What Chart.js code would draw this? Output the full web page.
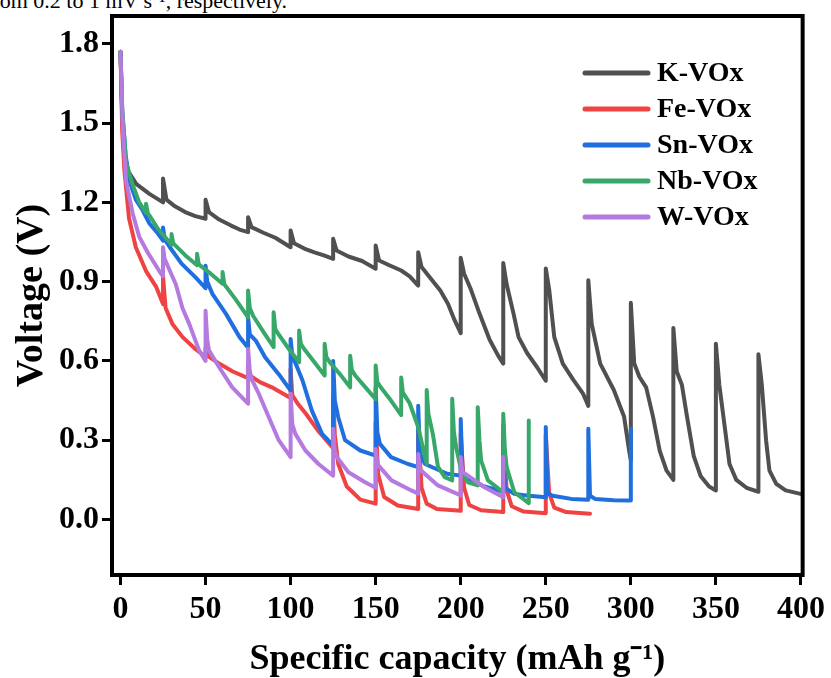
<!DOCTYPE html>
<html>
<head>
<meta charset="utf-8">
<script src="https://cdn.jsdelivr.net/npm/chart.js@4.4.1/dist/chart.umd.min.js"></script>
<style>
  body { margin: 0; background: #fff; }
  #wrap { position: relative; width: 831px; height: 678px; overflow: hidden; }
  #caption { position: absolute; left: -15px; top: -10px; font: 22px "Liberation Serif", serif; color: #000; white-space: nowrap; line-height: 22px; }
  canvas { position: absolute; left: 0; top: 0; }
</style>
</head>
<body>
<div id="wrap">
  <div id="caption">from 0.2 to 1 mV s⁻¹, respectively.</div>
  <canvas id="gittChart" width="831" height="678"></canvas>
</div>
<script>
const seriesNames = ['K-VOx', 'Fe-VOx', 'Sn-VOx', 'Nb-VOx', 'W-VOx'];
const xTicks = [0, 50, 100, 150, 200, 250, 300, 350, 400];
const yTicks = [0.0, 0.3, 0.6, 0.9, 1.2, 1.5, 1.8];

// K-VOx
const kX = [0, 1, 2, 4.3, 9.2, 17, 25,
  25, 27, 32, 38, 44, 50,
  50, 52, 58, 65, 70, 75,
  75, 77, 84, 91, 100,
  100, 102, 108, 114, 120, 125,
  125, 127, 134, 142, 150,
  150, 152, 158, 165, 170, 175,
  175, 177, 182, 188, 192.5, 196, 200,
  200, 202, 206, 211, 217, 222, 225,
  225, 227, 231, 234, 239, 245, 250,
  250, 252, 255, 260, 266, 272, 275,
  275, 277, 282, 290, 296, 299, 300,
  300, 302, 305, 309, 313, 317, 321, 325,
  325, 327, 330, 333, 337, 341, 346, 350,
  350, 352, 355, 358, 362, 368, 375,
  375, 377, 379.5, 381.5, 385.5, 391, 401];
const kY = [1.77, 1.52, 1.40, 1.32, 1.27, 1.232, 1.20,
  1.29, 1.21, 1.185, 1.163, 1.148, 1.138,
  1.21, 1.163, 1.135, 1.112, 1.097, 1.087,
  1.144, 1.106, 1.085, 1.066, 1.03,
  1.093, 1.045, 1.025, 1.011, 0.998, 0.986,
  1.062, 1.018, 0.995, 0.978, 0.949,
  1.037, 0.98, 0.962, 0.942, 0.92, 0.885,
  1.011, 0.955, 0.915, 0.866, 0.816, 0.76, 0.705,
  0.99, 0.93, 0.87, 0.78, 0.68, 0.62, 0.59,
  0.97, 0.89, 0.78, 0.69, 0.63, 0.575, 0.525,
  0.95, 0.87, 0.69, 0.59, 0.53, 0.475, 0.43,
  0.905, 0.74, 0.59, 0.49, 0.39, 0.26, 0.225,
  0.82, 0.59, 0.54, 0.50, 0.39, 0.26, 0.185, 0.15,
  0.725, 0.56, 0.51, 0.39, 0.24, 0.165, 0.125, 0.11,
  0.665, 0.51, 0.36, 0.21, 0.15, 0.12, 0.105,
  0.625, 0.51, 0.30, 0.185, 0.135, 0.11, 0.095];

// Fe-VOx
const feX = [0, 1, 2.3, 5, 9, 15, 21, 25,
  25, 26.5, 30.5, 36.5, 44, 50,
  50, 51, 58, 66, 75,
  75, 76, 82, 89, 100,
  100, 101, 104, 109, 116, 125,
  125, 126, 128, 133, 141, 150,
  150, 151.5, 155, 163, 175,
  175, 177, 180, 186, 200,
  200, 202, 205, 212, 225,
  225, 227, 230, 237, 250,
  250, 252, 255, 262, 276];
const feY = [1.77, 1.47, 1.32, 1.14, 1.03, 0.94, 0.88, 0.815,
  0.92, 0.80, 0.74, 0.69, 0.645, 0.615,
  0.65, 0.62, 0.59, 0.56, 0.535,
  0.59, 0.545, 0.52, 0.50, 0.46,
  0.57, 0.47, 0.44, 0.40, 0.337, 0.27,
  0.465, 0.32, 0.21, 0.125, 0.075, 0.06,
  0.37, 0.17, 0.085, 0.053, 0.04,
  0.34, 0.12, 0.06, 0.04, 0.033,
  0.325, 0.12, 0.055, 0.035, 0.028,
  0.315, 0.11, 0.05, 0.03, 0.024,
  0.32, 0.10, 0.045, 0.028, 0.022];

// Sn-VOx
const snX = [0, 1, 3, 5.3, 9, 13, 17, 21, 25,
  25, 26, 29, 36, 44, 50,
  50, 51, 54, 62, 70, 75,
  75, 76, 79.5, 85, 93, 100,
  100, 101, 103, 107, 112.5, 118.5, 125,
  125, 126, 128, 132, 141, 150,
  150, 151, 152.5, 159, 169, 175,
  175, 176, 179, 192, 200,
  200, 201, 206, 214, 225,
  225, 226, 231.5, 240, 250,
  250, 251, 254, 265, 275,
  275, 276, 279, 290, 300,
  300];
const snY = [1.77, 1.55, 1.38, 1.28, 1.21, 1.17, 1.12, 1.09, 1.055,
  1.105, 1.06, 1.03, 0.967, 0.917, 0.875,
  0.96, 0.90, 0.854, 0.778, 0.69, 0.65,
  0.765, 0.70, 0.677, 0.614, 0.55, 0.488,
  0.683, 0.62, 0.589, 0.526, 0.412, 0.324, 0.28,
  0.60, 0.45, 0.387, 0.30, 0.261, 0.242,
  0.50, 0.33, 0.286, 0.236, 0.21, 0.198,
  0.43, 0.25, 0.21, 0.173, 0.166,
  0.38, 0.18, 0.148, 0.125, 0.105,
  0.36, 0.12, 0.097, 0.09, 0.084,
  0.35, 0.10, 0.09, 0.078, 0.075,
  0.343, 0.09, 0.078, 0.073, 0.072,
  0.343];

// Nb-VOx
const nbX = [0, 1, 3.3, 7, 11, 15,
  15, 16, 22, 30,
  30, 31, 38, 45,
  45, 46, 53, 60,
  60, 61, 68, 75,
  75, 76, 78, 84, 90,
  90, 91, 93, 99, 105,
  105, 106, 108, 114, 120,
  120, 121, 123, 129, 135,
  135, 136, 138, 144, 150,
  150, 151, 153, 159, 165,
  165, 166, 170, 175, 178.5, 180,
  180, 181, 183.7, 186.6, 190.6, 195,
  195, 196, 197.4, 200.3, 204.2, 210,
  210, 211, 212, 216, 225,
  225, 226, 227, 231.5, 240,
  240];
const nbY = [1.77, 1.55, 1.35, 1.27, 1.20, 1.16,
  1.195, 1.16, 1.10, 1.04,
  1.08, 1.045, 1.00, 0.962,
  1.005, 0.965, 0.93, 0.892,
  0.936, 0.89, 0.83, 0.765,
  0.866, 0.80, 0.77, 0.71, 0.652,
  0.784, 0.72, 0.70, 0.645, 0.595,
  0.715, 0.665, 0.645, 0.595, 0.545,
  0.665, 0.615, 0.595, 0.55, 0.50,
  0.62, 0.565, 0.545, 0.50, 0.455,
  0.583, 0.52, 0.50, 0.45, 0.395,
  0.537, 0.48, 0.44, 0.35, 0.25, 0.21,
  0.49, 0.40, 0.32, 0.20, 0.16, 0.148,
  0.457, 0.33, 0.27, 0.185, 0.141, 0.129,
  0.425, 0.30, 0.223, 0.148, 0.103,
  0.40, 0.26, 0.198, 0.103, 0.062,
  0.375];

// W-VOx
const wX = [0, 1.4, 3.3, 7.2, 11, 16, 22.8, 25,
  25, 26, 27.7, 32.5, 36.4, 40.4, 46.2, 50,
  50, 51, 52, 58, 65.7, 75,
  75, 76, 77.4, 81.3, 87.2, 93, 100,
  100, 101, 102.8, 108.7, 116.4, 125,
  125, 126, 127.2, 134, 143.8, 150,
  150, 151, 152.5, 159.3, 171, 175,
  175, 176, 178.8, 186.6, 200,
  200, 201, 204.2, 214, 225,
  225];
const wY = [1.77, 1.47, 1.28, 1.157, 1.07, 1.01, 0.94, 0.92,
  1.03, 0.985, 0.96, 0.89, 0.80, 0.74, 0.64, 0.60,
  0.79, 0.68, 0.64, 0.576, 0.50, 0.438,
  0.646, 0.56, 0.526, 0.476, 0.387, 0.30, 0.236,
  0.476, 0.36, 0.324, 0.261, 0.21, 0.166,
  0.343, 0.26, 0.236, 0.179, 0.141, 0.12,
  0.267, 0.21, 0.198, 0.148, 0.11, 0.098,
  0.248, 0.19, 0.173, 0.129, 0.091,
  0.236, 0.18, 0.166, 0.122, 0.084,
  0.236];

const colors = ['#505050', '#ef4343', '#1f6fde', '#38a86a', '#b47ae0'];

function toPoints(xs, ys) {
  return xs.map((x, i) => ({ x: x, y: ys[i] }));
}

const allX = [kX, feX, snX, nbX, wX];
const allY = [kY, feY, snY, nbY, wY];

const datasets = seriesNames.map((name, i) => ({
  label: name,
  data: toPoints(allX[i], allY[i]),
  borderColor: colors[i],
  backgroundColor: colors[i],
  borderWidth: 4,
  pointRadius: 0,
  tension: 0,
  borderJoinStyle: 'round',
  borderCapStyle: 'round',
  order: seriesNames.length - i
}));

// frame around the plot and the legend in the top-right corner
const frameAndLegend = {
  id: 'frameAndLegend',
  afterDraw(chart) {
    const ctx = chart.ctx;
    const a = chart.chartArea;
    ctx.save();
    ctx.strokeStyle = '#000';
    ctx.lineWidth = 4;
    ctx.strokeRect(a.left, a.top, a.right - a.left, a.bottom - a.top);

    ctx.font = 'bold 28px "Liberation Serif", serif';
    ctx.textBaseline = 'middle';
    ctx.lineCap = 'round';
    chart.data.datasets.forEach((ds, i) => {
      const y = 73 + i * 36;
      ctx.strokeStyle = ds.borderColor;
      ctx.lineWidth = 5;
      ctx.beginPath();
      ctx.moveTo(585, y);
      ctx.lineTo(648, y);
      ctx.stroke();
      ctx.fillStyle = '#000';
      ctx.fillText(ds.label, 657, y + 1);
    });
    ctx.restore();
  }
};

Chart.defaults.font.family = '"Liberation Serif", "Times New Roman", serif';
Chart.defaults.font.weight = 'bold';
Chart.defaults.color = '#000';

new Chart(document.getElementById('gittChart'), {
  type: 'line',
  data: { datasets: datasets },
  options: {
    responsive: false,
    animation: false,
    layout: { padding: { left: 0, top: 16, right: 25, bottom: 0 } },
    plugins: {
      legend: { display: false },
      tooltip: { enabled: false }
    },
    scales: {
      x: {
        type: 'linear',
        min: -5,
        max: 401,
        afterBuildTicks: s => { s.ticks = xTicks.map(v => ({ value: v })); },
        afterFit: s => { s.height = 103; },
        ticks: { font: { size: 32, weight: 'bold' }, color: '#000', padding: 6, maxRotation: 0 },
        grid: { drawOnChartArea: false, tickLength: 10, tickWidth: 3, tickColor: '#000' },
        border: { display: true, color: '#000', width: 4 },
        title: {
          display: true,
          text: 'Specific capacity (mAh g⁻¹)',
          font: { size: 36, weight: 'bold', lineHeight: 1 },
          color: '#000',
          padding: { top: 0, bottom: 0 }
        }
      },
      y: {
        type: 'linear',
        min: -0.21,
        max: 1.905,
        afterBuildTicks: s => { s.ticks = yTicks.map(v => ({ value: v })); },
        afterFit: s => { s.width = 112; },
        ticks: { font: { size: 32, weight: 'bold', lineHeight: 0.8 }, color: '#000', padding: 3, callback: v => v.toFixed(1) },
        grid: { drawOnChartArea: false, tickLength: 10, tickWidth: 3, tickColor: '#000' },
        border: { display: true, color: '#000', width: 4 },
        title: {
          display: true,
          text: 'Voltage (V)',
          font: { size: 38, weight: 'bold' },
          color: '#000',
          padding: { top: 9, bottom: 0 }
        }
      }
    }
  },
  plugins: [frameAndLegend]
});
</script>
</body>
</html>
